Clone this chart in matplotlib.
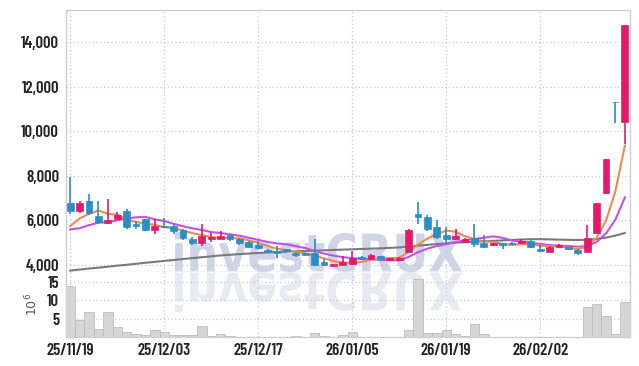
import numpy as np
import matplotlib
matplotlib.use("Agg")
import matplotlib.pyplot as plt
from matplotlib.textpath import TextPath
from matplotlib.patches import PathPatch
from matplotlib.font_manager import FontProperties
from matplotlib.transforms import Affine2D

# daily candles (KRW), 25/11/19 .. 26/02/13
dates = ["25/11/19", "25/12/03", "25/12/17", "26/01/05", "26/01/19", "26/02/02"]
date_pos = [0, 10, 20, 30, 40, 50]

opens = [6793, 6435, 6870, 6197, 5870, 6063, 6435, 5838, 6050, 5570,
         5750, 5750, 5570, 5180, 5000, 5180, 5180, 5345, 5150, 5030,
         4897, 4673, 4640, 4700, 4550, 4525, 4525, 4150, 3970, 4000,
         4030, 4370, 4270, 4400, 4210, 4240, 4600, 6287, 6166, 5690,
         5345, 5150, 5045, 5200, 4973, 4880, 4973, 4973, 4973, 5076,
         4700, 4600, 4793, 4793, 4673, 4600, 5450, 7243, 11323, 10425]
highs = [7959, 6870, 7183, 6870, 6946, 6363, 6497, 5986, 6076, 6050,
         6120, 5840, 5600, 5260, 5825, 5420, 5538, 5390, 5200, 5060,
         5090, 4700, 4850, 4720, 4580, 4560, 5150, 4255, 4060, 4400,
         4640, 4420, 4480, 4420, 4330, 4360, 5600, 6840, 6240, 6000,
         5690, 5600, 5200, 5838, 5345, 5000, 5000, 5020, 5160, 5120,
         4900, 4840, 4950, 4830, 4700, 5794, 6800, 8780, 11323, 14762]
lows = [6287, 6320, 6242, 5838, 5838, 6018, 5628, 5628, 5538, 5377,
        5645, 5400, 5135, 4900, 4852, 5045, 5150, 5076, 4910, 4800,
        4720, 4540, 4330, 4620, 4360, 4400, 3955, 3950, 3950, 3990,
        4010, 4230, 4250, 4250, 4190, 4220, 4580, 5825, 5530, 5150,
        4930, 5120, 5000, 4793, 4750, 4860, 4730, 4880, 4950, 4760,
        4600, 4580, 4760, 4680, 4435, 4580, 5430, 7200, 10354, 9412]
closes = [6435, 6793, 6318, 5915, 6018, 6242, 5717, 5750, 5570, 5750,
          5690, 5525, 5197, 5000, 5300, 5270, 5300, 5150, 4973, 4820,
          4750, 4570, 4550, 4640, 4435, 4435, 4000, 3990, 4030, 4120,
          4300, 4255, 4450, 4270, 4300, 4330, 5570, 6140, 5600, 5270,
          5150, 5300, 5150, 4930, 4793, 4973, 4880, 4930, 5090, 4793,
          4615, 4820, 4897, 4700, 4525, 5225, 6767, 8753, 11300, 14762]
volume = [13.8, 4.7, 6.8, 2.2, 6.8, 2.7, 1.4, 0.9, 0.55, 1.9,
          1.35, 0.55, 0.55, 0.55, 3.0, 0.27, 0.8, 0.27, 0.2, 0.2,
          0.2, 0.2, 0.2, 0.2, 0.3, 0.2, 1.1, 0.35, 0.2, 0.55,
          1.5, 0.1, 0.2, 0.05, 0.1, 0.2, 2.0, 15.9, 1.2, 1.2,
          2.0, 0.8, 0.3, 3.6, 0.9, 0.2, 0.15, 0.1, 0.1, 0.1,
          0.1, 0.05, 0.05, 0.05, 0.05, 8.2, 9.0, 5.9, 0.9, 9.7]

ma5 = [5750, 6090, 6300, 6450, 6296, 6257, 6042, 5928, 5859, 5806,
       5695, 5657, 5546, 5432, 5342, 5258, 5213, 5204, 5199, 5103,
       4999, 4853, 4733, 4666, 4589, 4526, 4412, 4300, 4178, 4115,
       4088, 4139, 4231, 4279, 4315, 4321, 4584, 4922, 5188, 5382,
       5546, 5492, 5294, 5160, 5065, 5029, 4945, 4901, 4933, 4933,
       4862, 4850, 4843, 4765, 4711, 4833, 5223, 5994, 7314, 9361]
ma10 = [5600, 5650, 5790, 5900, 5920, 6010, 6090, 6140, 6160, 6051,
        5976, 5850, 5737, 5646, 5574, 5477, 5435, 5375, 5316, 5223,
        5129, 5033, 4968, 4932, 4846, 4762, 4632, 4516, 4422, 4352,
        4307, 4276, 4266, 4229, 4215, 4205, 4362, 4577, 4734, 4849,
        4934, 5038, 5108, 5174, 5223, 5288, 5219, 5098, 5047, 4999,
        4945, 4897, 4872, 4849, 4822, 4848, 5036, 5419, 6040, 7036]
ma60 = [3750, 3795, 3840, 3880, 3925, 3970, 4010, 4055, 4100, 4140,
        4185, 4225, 4270, 4310, 4350, 4390, 4430, 4460, 4490, 4515,
        4540, 4560, 4580, 4600, 4615, 4630, 4645, 4660, 4675, 4690,
        4705, 4720, 4735, 4750, 4770, 4790, 4830, 4870, 4905, 4940,
        4970, 5000, 5025, 5045, 5065, 5085, 5105, 5125, 5145, 5160,
        5160, 5150, 5140, 5130, 5125, 5130, 5170, 5230, 5320, 5440]

price_ticks = [4000, 6000, 8000, 10000, 12000, 14000]
vol_ticks = [5, 10, 15]

UP = "#e5196b"
DOWN = "#2a8dc5"
GRID = "#c4c8dc"
FRAME = "#cfcfd6"
font = ["Barlow Condensed", "DejaVu Sans"]

fig = plt.figure(figsize=(6.39, 3.66), dpi=100)
ax = fig.add_axes([66/639, 94/366, 564/639, 262/366])
axv = fig.add_axes([66/639, 28.7/366, 564/639, 65.3/366])

x = np.arange(len(closes))
o = np.array(opens); c = np.array(closes)
colors = [UP if cc >= oo else DOWN for oo, cc in zip(o, c)]

# watermark + its mirror in the volume panel
fp = FontProperties(family="DejaVu Sans", weight="bold")
tp = TextPath((0, 0), "investCRUX", size=1, prop=fp)
ext = tp.get_extents()
sx = 287 / ext.width
sy = 40 / ext.height
tr = Affine2D().translate(-ext.x0, -ext.y0).scale(sx, sy).translate(175, 94)
ax.add_artist(PathPatch(tp, transform=tr, facecolor="#cfd4e6", edgecolor="none", zorder=0.5))
tr2 = Affine2D().translate(-ext.x0, -ext.y0).scale(sx, -sy).translate(175, 94)
axv.add_artist(PathPatch(tp, transform=tr2, facecolor="#e8eaf2", edgecolor="none", zorder=0.5))

# candles
ax.vlines(x, lows, highs, colors=colors, linewidth=1.2, zorder=3)
body = np.maximum(np.abs(c - o), 30)
ax.bar(x, body, bottom=np.minimum(o, c), width=0.72, color=colors,
       edgecolor=colors, linewidth=0.5, zorder=4)

ax.plot(x, ma60, color="#7a7a7a", lw=1.5, zorder=2)
ax.plot(x, ma10, color="#c84ee8", lw=1.5, zorder=2)
ax.plot(x, ma5, color="#ee8a4e", lw=1.5, zorder=2)

ax.set_xlim(-0.45, 59.55)
ax.set_ylim(3686, 15450)
ax.set_yticks(price_ticks)
ax.set_yticklabels([f"{v:,}" for v in price_ticks])
ax.set_xticks(date_pos)
ax.set_xticklabels([])

axv.bar(x, volume, width=1.0, color="#d6d6d6", edgecolor="#bdbdbd", linewidth=0.6, zorder=2)
axv.set_xlim(-0.45, 59.55)
axv.set_ylim(0, 17.7)
axv.set_yticks(vol_ticks)
axv.set_yticklabels([str(v) for v in vol_ticks])
axv.set_xticks(date_pos)
axv.set_xticklabels(dates)
axv.set_ylabel(r"$10^6$", color="#555555", fontsize=9)
axv.yaxis.set_label_coords(-0.046, 0.5)

for a in (ax, axv):
    a.grid(True, color=GRID, linestyle=(0, (1, 2)), linewidth=0.9, zorder=0)
    a.set_axisbelow(True)
    a.tick_params(length=0, pad=5, labelsize=12, labelcolor="#222222")
    for lab in a.get_xticklabels() + a.get_yticklabels():
        lab.set_family(font)
        lab.set_fontweight(600)
    for s in a.spines.values():
        s.set_color(FRAME)
        s.set_linewidth(1.0)
axv.spines["top"].set_visible(False)
axv.tick_params(axis="x", pad=4)

fig.savefig("out.png", dpi=100, facecolor="white")
